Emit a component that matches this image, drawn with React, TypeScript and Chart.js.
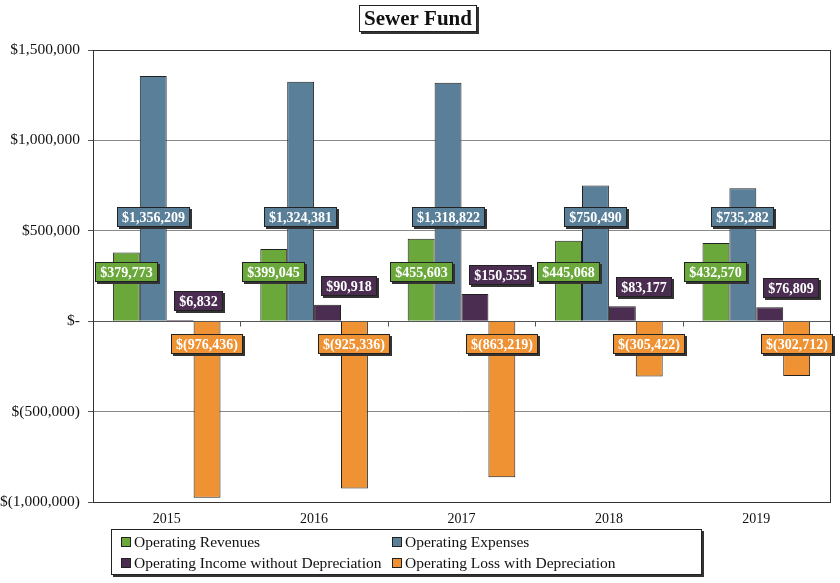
import React, { useEffect, useRef } from "react";
import { Chart, registerables } from "chart.js";

Chart.register(...registerables);

const years = ["2015", "2016", "2017", "2018", "2019"];
const operatingRevenues = [379773, 399045, 455603, 445068, 432570];
const operatingExpenses = [1356209, 1324381, 1318822, 750490, 735282];
const incomeWithoutDep = [6832, 90918, 150555, 83177, 76809];
const lossWithDep = [-976436, -925336, -863219, -305422, -302712];
const yTickValues = [1500000, 1000000, 500000, 0, -500000, -1000000];

const seriesNames = [
  "Operating Revenues",
  "Operating Expenses",
  "Operating Income without Depreciation",
  "Operating Loss with Depreciation",
];
const seriesColors = ["#6aa83c", "#5a7f98", "#4b2d51", "#ef9233"];

const SERIF = '"Liberation Serif", "Times New Roman", serif';

// label placement rules (style, not data)
const labelRules: any[] = [
  { kind: "fixed", value: 272000 },
  { kind: "fixed", value: 578000 },
  { kind: "above", px: 19, leftInset: 7 },
  { kind: "fixed", value: -128000 },
];

function fmtMoney(v: number): string {
  if (v === 0) return "$-";
  const s = Math.abs(v).toLocaleString("en-US");
  return v < 0 ? `$(${s})` : `$${s}`;
}

function drawBox(ctx: any, x: number, y: number, w: number, h: number, fill: string) {
  ctx.fillStyle = "#333";
  ctx.fillRect(x + 2, y + 2, w, h);
  ctx.fillStyle = fill;
  ctx.fillRect(x, y, w, h);
  ctx.strokeStyle = "#222";
  ctx.lineWidth = 1;
  ctx.strokeRect(x + 0.5, y + 0.5, w - 1, h - 1);
}

const decorPlugin = {
  id: "decor",
  beforeDatasetsDraw(chart: any) {
    const { ctx, scales } = chart;
    const y0 = Math.round(scales.y.getPixelForValue(0)) + 0.5;
    const xs = scales.x;
    const n = years.length;
    ctx.save();
    ctx.strokeStyle = "#555";
    ctx.lineWidth = 1;
    for (let i = 1; i < n; i++) {
      const x = Math.round(xs.left + (i * (xs.right - xs.left)) / n) + 0.5;
      ctx.beginPath();
      ctx.moveTo(x, y0);
      ctx.lineTo(x, y0 + 5);
      ctx.stroke();
    }
    ctx.restore();
  },
  afterDraw(chart: any) {
    const { ctx, chartArea, scales } = chart;
    ctx.save();
    // frame
    ctx.strokeStyle = "#333";
    ctx.lineWidth = 1;
    ctx.strokeRect(
      Math.round(chartArea.left) + 0.5,
      Math.round(chartArea.top) + 0.5,
      Math.round(chartArea.right - chartArea.left),
      Math.round(chartArea.bottom - chartArea.top)
    );

    // x category labels
    ctx.font = `14px ${SERIF}`;
    ctx.fillStyle = "#111";
    ctx.textAlign = "center";
    ctx.textBaseline = "middle";
    years.forEach((yr, i) => {
      ctx.fillText(yr, scales.x.getPixelForValue(i), chartArea.bottom + 17);
    });

    // data labels
    ctx.font = `bold 14px ${SERIF}`;
    ctx.textBaseline = "middle";
    ctx.textAlign = "center";
    chart.data.datasets.forEach((ds: any, di: number) => {
      const meta = chart.getDatasetMeta(di);
      const rule = labelRules[di];
      meta.data.forEach((bar: any, i: number) => {
        const v = ds.data[i];
        const text = fmtMoney(v);
        const tw = ctx.measureText(text).width;
        const w = Math.round(tw + 10);
        const h = 20;
        let cy: number;
        if (rule.kind === "fixed") cy = scales.y.getPixelForValue(rule.value);
        else cy = Math.min(bar.y, bar.base) - rule.px;
        let bx: number;
        if (rule.leftInset !== undefined) bx = bar.x - bar.width / 2 + rule.leftInset;
        else bx = bar.x - w / 2;
        bx = Math.round(bx);
        const by = Math.round(cy - h / 2);
        drawBox(ctx, bx, by, w, h, seriesColors[di]);
        ctx.fillStyle = "#ffffff";
        ctx.fillText(text, bx + w / 2, by + h / 2 + 1);
      });
    });

    // title
    const title = "Sewer Fund";
    ctx.font = `bold 21px ${SERIF}`;
    const ttw = ctx.measureText(title).width;
    const tcx = chart.width / 2 - 2;
    const tbw = Math.round(ttw + 10);
    const tbx = Math.round(tcx - tbw / 2);
    const tby = 5;
    const tbh = 27;
    drawBox(ctx, tbx, tby, tbw, tbh, "#ffffff");
    ctx.fillStyle = "#111";
    ctx.textAlign = "center";
    ctx.fillText(title, tcx, tby + tbh / 2 + 1);

    // legend
    const lx = 111;
    const ly = 529;
    const lw = 591;
    const lh = 46;
    drawBox(ctx, lx, ly, lw, lh, "#ffffff");
    ctx.font = `15.5px ${SERIF}`;
    ctx.textAlign = "left";
    const colX = [lx + 10, lx + 281];
    const rowY = [ly + 13, ly + 34];
    seriesNames.forEach((name, k) => {
      const cx = colX[k % 2];
      const cyy = rowY[Math.floor(k / 2)];
      ctx.fillStyle = seriesColors[k];
      ctx.fillRect(cx, cyy - 5, 10, 10);
      ctx.strokeStyle = "#222";
      ctx.strokeRect(cx + 0.5, cyy - 4.5, 9, 9);
      ctx.fillStyle = "#111";
      ctx.fillText(name, cx + 13, cyy + 1);
    });
    ctx.restore();
  },
};

export default function App() {
  const ref = useRef<HTMLCanvasElement | null>(null);
  useEffect(() => {
    if (!ref.current) return;
    const data = [operatingRevenues, operatingExpenses, incomeWithoutDep, lossWithDep];
    const chart = new Chart(ref.current, {
      type: "bar",
      data: {
        labels: years,
        datasets: data.map((d, i) => ({
          label: seriesNames[i],
          data: d,
          backgroundColor: seriesColors[i],
          borderColor: "#222",
          borderWidth: 1,
          categoryPercentage: 0.73,
          barPercentage: 1,
        })),
      },
      options: {
        responsive: false,
        animation: false,
        devicePixelRatio: 1,
        layout: { padding: { top: 50, right: 10, bottom: 59, left: 0 } },
        plugins: {
          legend: { display: false },
          title: { display: false },
          tooltip: { enabled: false },
        },
        scales: {
          x: {
            grid: { display: false },
            border: { display: false },
            ticks: { display: false },
            afterFit(scale: any) {
              scale.height = 22;
            },
          },
          y: {
            min: -1000000,
            max: 1500000,
            afterBuildTicks(scale: any) {
              scale.ticks = yTickValues.map((v) => ({ value: v }));
            },
            grid: {
              color: (c: any) => (c.tick && c.tick.value === 0 ? "#555" : "#8a8a8a"),
              tickColor: "#555",
              tickLength: 5,
            },
            border: { display: false },
            ticks: {
              color: "#111",
              font: { family: SERIF, size: 15.5 },
              padding: 8,
              callback: (v: any) => fmtMoney(Number(v)),
            },
            afterFit(scale: any) {
              scale.width = 93;
            },
          },
        },
      },
      plugins: [decorPlugin],
    });
    return () => chart.destroy();
  }, []);
  return (
    <div style={{ position: "absolute", left: 0, top: 0, width: 840, height: 583, background: "#fff" }}>
      <canvas ref={ref} width={840} height={583} style={{ display: "block" }} />
    </div>
  );
}
